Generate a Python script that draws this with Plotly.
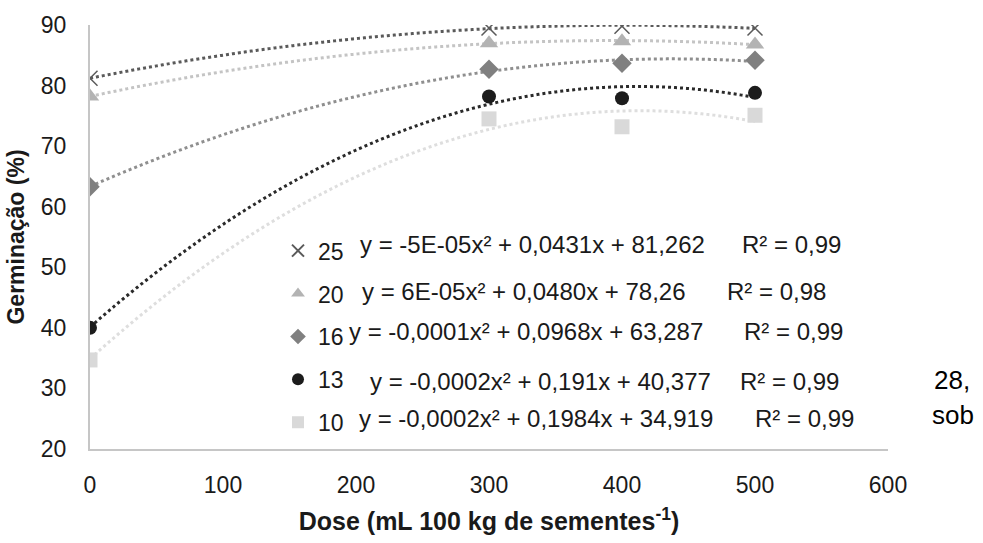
import numpy as np
import plotly.graph_objects as go

# ---- data ----
dose = [0, 300, 400, 500]
series_names = ["25", "20", "16", "13", "10"]
g25 = [81.2, 89.5, 89.8, 89.5]
g20 = [78.2, 87.0, 87.3, 86.8]
g16 = [63.3, 82.7, 83.7, 84.2]
g13 = [40.0, 78.2, 77.9, 78.8]
g10 = [34.7, 74.5, 73.2, 75.1]
equations = [
    "y = -5E-05x² + 0,0431x + 81,262",
    "y = 6E-05x² + 0,0480x + 78,26",
    "y = -0,0001x² + 0,0968x + 63,287",
    "y = -0,0002x² + 0,191x + 40,377",
    "y = -0,0002x² + 0,1984x + 34,919",
]
r2_labels = ["R² = 0,99", "R² = 0,98", "R² = 0,99", "R² = 0,99", "R² = 0,99"]
x_ticks = [0, 100, 200, 300, 400, 500, 600]
y_ticks = [20, 30, 40, 50, 60, 70, 80, 90]

values = [g25, g20, g16, g13, g10]

# ---- styles ----
FONT = "Liberation Sans, Arial, sans-serif"
line_colors = ["#5a5a5a", "#c4c4c4", "#8f8f8f", "#2a2a2a", "#dedede"]
marker_colors = ["#5a5a5a", "#b3b3b3", "#808080", "#1c1c1c", "#d9d9d9"]
symbols = ["x-thin", "triangle-up", "diamond", "circle", "square"]
sizes = [15, 16, 15, 14, 15]

W, H = 983, 543
L, R, T, B = 90, 95, 25, 84
pw, ph = W - L - R, H - T - B


def px_to_paper(px, py):
    return (px - L) / pw, (H - B - py) / ph


fig = go.Figure()

# quadratic trend lines (fitted to the data, as in the spreadsheet)
xs = np.linspace(0, 500, 201)
for name, vals, lc in zip(series_names, values, line_colors):
    coef = np.polyfit(dose, vals, 2)
    fig.add_trace(go.Scatter(
        x=xs, y=np.polyval(coef, xs), mode="lines",
        line=dict(color=lc, width=3, dash="dot", shape="spline"),
        showlegend=False, hoverinfo="skip",
    ))

for name, vals, mc, sym, sz in zip(series_names, values, marker_colors, symbols, sizes):
    marker = dict(symbol=sym, color=mc, size=sz)
    if sym == "x-thin":
        marker["line"] = dict(color=mc, width=1.5)
    else:
        marker["line"] = dict(width=0)
    fig.add_trace(go.Scatter(
        x=dose, y=vals, mode="markers", name=name,
        legendgroup="g" + name, marker=marker,
    ))

# equation and R² labels
eq_rows = [250, 298, 339, 390, 428]
eq_x = [358, 360, 347, 368, 357]
r2_x = [740, 725, 742, 738, 753]
for eq, r2, py, ex, rx in zip(equations, r2_labels, eq_rows, eq_x, r2_x):
    ax, ay = px_to_paper(ex, py)
    fig.add_annotation(x=ax, y=ay, xref="paper", yref="paper", text=eq,
                       showarrow=False, xanchor="left", yanchor="middle",
                       font=dict(family=FONT, size=24, color="#1a1a1a"))
    ax, ay = px_to_paper(rx, py)
    fig.add_annotation(x=ax, y=ay, xref="paper", yref="paper", text=r2,
                       showarrow=False, xanchor="left", yanchor="middle",
                       font=dict(family=FONT, size=24, color="#1a1a1a"))

# stray page text visible at the right edge
for txt, px, py in [("28,", 932, 388), ("sob", 930, 424)]:
    ax, ay = px_to_paper(px, py)
    fig.add_annotation(x=ax, y=ay, xref="paper", yref="paper", text=txt,
                       showarrow=False, xanchor="left", yanchor="middle",
                       font=dict(family=FONT, size=26, color="#000000"))

lx, ly = px_to_paper(278, 234)
fig.update_layout(
    width=W, height=H,
    margin=dict(l=L, r=R, t=T, b=B, pad=0),
    paper_bgcolor="white", plot_bgcolor="white",
    font=dict(family=FONT, size=23, color="#1a1a1a"),
    showlegend=True,
    legend=dict(x=lx, y=ly, xanchor="left", yanchor="top",
                bgcolor="rgba(0,0,0,0)", font=dict(family=FONT, size=23, color="#1a1a1a"),
                itemwidth=30, itemsizing="constant",
                tracegroupgap=10, traceorder="grouped"),
    xaxis=dict(range=[0, 600], tickvals=x_ticks, showgrid=False, zeroline=False,
               showline=True, linecolor="#c6c6c6", linewidth=2, ticks="",
               ticklabelstandoff=14,
               tickfont=dict(family=FONT, size=23, color="#1a1a1a"),
               title=dict(text="<b>Dose (mL 100 kg de sementes<sup>-1</sup>)</b>",
                          font=dict(family=FONT, size=25, color="#1a1a1a"), standoff=16)),
    yaxis=dict(range=[20, 90], tickvals=y_ticks, showgrid=False, zeroline=False,
               showline=True, linecolor="#c6c6c6", linewidth=2, ticks="",
               ticklabelstandoff=17,
               tickfont=dict(family=FONT, size=23, color="#1a1a1a"),
               title=dict(text="<b>Germinação (%)</b>",
                          font=dict(family=FONT, size=23, color="#1a1a1a"), standoff=10)),
)

fig.write_html("out.html")
